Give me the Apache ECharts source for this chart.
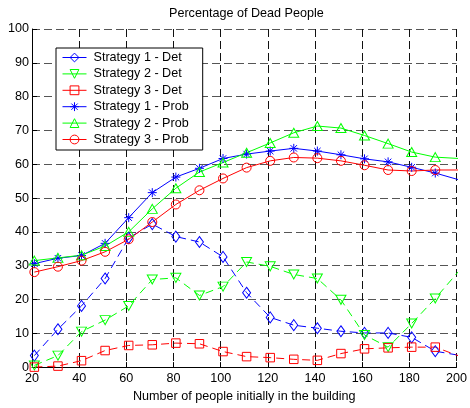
<!DOCTYPE html>
<html>
<head>
<meta charset="utf-8">
<script src="https://cdn.jsdelivr.net/npm/echarts@6/dist/echarts.min.js"></script>
<style>
html,body{margin:0;padding:0;background:#fff;}
#chart{width:470px;height:408px;}
</style>
</head>
<body>
<div id="chart"></div>
<script>
// x positions of the samples (number of people initially in the building)
const people = [21, 31, 41, 51, 61, 71, 81, 91, 101, 111, 121, 131, 141, 151, 161, 171, 181, 191, 201];
const xTicks = [20, 40, 60, 80, 100, 120, 140, 160, 180, 200];
const yTicks = [0, 10, 20, 30, 40, 50, 60, 70, 80, 90, 100];

const s1Det  = [3.4, 11.2, 18.1, 26.2, 38.2, 42.3, 38.6, 37.0, 32.6, 22.0, 14.7, 12.4, 11.5, 10.6, 10.1, 10.1, 8.8, 4.7, 3.5];
const s2Det  = [0.5, 3.4, 10.5, 13.9, 18.1, 25.9, 26.4, 21.2, 23.8, 31.1, 29.8, 27.4, 26.2, 19.9, 9.5, 5.9, 12.9, 20.3, 28.4];
const s3Det  = [0.0, 0.3, 1.9, 4.9, 6.4, 6.6, 7.1, 6.9, 4.6, 3.1, 2.8, 2.3, 2.0, 4.0, 5.4, 5.7, 5.9, 5.9, 3.3];
const s1Prob = [30.6, 32.2, 33.0, 36.6, 44.2, 51.6, 56.2, 58.8, 61.7, 63.0, 63.9, 64.7, 63.9, 62.8, 61.6, 60.7, 59.1, 57.4, 55.4];
const s2Prob = [31.5, 32.3, 33.1, 35.8, 40.0, 46.8, 52.9, 57.7, 60.5, 63.4, 66.3, 69.3, 71.3, 70.7, 68.5, 66.1, 63.6, 62.1, 61.7];
const s3Prob = [28.1, 29.7, 31.5, 34.1, 37.8, 42.9, 48.1, 52.3, 55.8, 59.0, 61.0, 62.0, 61.8, 61.0, 59.7, 58.3, 58.0, 58.3, 58.3];

const names = ['Strategy 1 - Det', 'Strategy 2 - Det', 'Strategy 3 - Det',
               'Strategy 1 - Prob', 'Strategy 2 - Prob', 'Strategy 3 - Prob'];

const FONT = "'Liberation Sans', Arial, Helvetica, sans-serif";
const FS = 12.6;
const BLUE = '#0000ff', GREEN = '#00ff00', RED = '#ff0000';
const STAR = 'path://M0,-5L0,5M-5,0L5,0M-3.6,-3.6L3.6,3.6M-3.6,3.6L3.6,-3.6';

function pairs(vals) { return people.map((x, i) => [x, vals[i]]); }

function mkSeries(name, vals, color, dashed, symbol, size, rotate) {
  return {
    name: name,
    type: 'line',
    data: pairs(vals),
    clip: true,
    symbol: symbol,
    symbolSize: size,
    symbolRotate: rotate || 0,
    showAllSymbol: true,
    lineStyle: { color: color, width: 1, type: dashed ? [8, 5] : 'solid' },
    itemStyle: { color: 'rgba(0,0,0,0)', borderColor: color, borderWidth: 1 },
    emphasis: { disabled: true },
    animation: false
  };
}

const chart = echarts.init(document.getElementById('chart'), null, { renderer: 'canvas' });
chart.setOption({
  backgroundColor: '#fff',
  animation: false,
  title: {
    text: 'Percentage of Dead People',
    left: 167,
    top: 5,
    padding: 2,
    textStyle: { fontFamily: FONT, fontSize: FS, fontWeight: 'normal', color: '#000' }
  },
  legend: {
    orient: 'vertical',
    left: 56,
    top: 48,
    padding: [3, 14, 4, 6],
    itemWidth: 24,
    itemHeight: 11,
    itemGap: 3.4,
    backgroundColor: '#fff',
    borderColor: '#000',
    borderWidth: 1,
    borderRadius: 0,
    selectedMode: false,
    data: names,
    lineStyle: { type: 'solid', width: 1 },
    itemStyle: { borderWidth: 1 },
    textStyle: { fontFamily: FONT, fontSize: FS, color: '#000', padding: [0, 0, 0, 2] }
  },
  grid: { left: 32, right: 10, top: 29, bottom: 38, containLabel: false },
  xAxis: {
    type: 'value',
    min: 20, max: 200, interval: 20,
    name: 'Number of people initially in the building',
    nameLocation: 'middle',
    nameGap: 21,
    nameTextStyle: { fontFamily: FONT, fontSize: FS, color: '#000' },
    axisLine: { show: true, onZero: false, lineStyle: { color: '#000', width: 1 } },
    axisTick: { show: true, inside: true, length: 5, lineStyle: { color: '#000' } },
    axisLabel: { margin: 5, fontFamily: FONT, fontSize: FS, color: '#000',
                 formatter: v => xTicks.includes(v) ? String(v) : '' },
    splitLine: { show: true, lineStyle: { color: '#111', width: 1, type: [8, 4] } }
  },
  yAxis: {
    type: 'value',
    min: 0, max: 100, interval: 10,
    axisLine: { show: true, onZero: false, lineStyle: { color: '#000', width: 1 } },
    axisTick: { show: true, inside: true, length: 5, lineStyle: { color: '#000' } },
    axisLabel: { margin: 3, fontFamily: FONT, fontSize: FS, color: '#000',
                 formatter: v => yTicks.includes(v) ? String(v) : '' },
    splitLine: { show: true, lineStyle: { color: '#555', width: 1, type: [8, 4] } }
  },
  series: [
    mkSeries(names[0], s1Det, BLUE, true, 'diamond', [8, 11]),
    mkSeries(names[1], s2Det, GREEN, true, 'triangle', [10, 9], 180),
    mkSeries(names[2], s3Det, RED, true, 'rect', 8.5),
    mkSeries(names[3], s1Prob, BLUE, false, STAR, 9),
    mkSeries(names[4], s2Prob, GREEN, false, 'triangle', [10, 9]),
    mkSeries(names[5], s3Prob, RED, false, 'circle', 9)
  ]
});
</script>
</body>
</html>
